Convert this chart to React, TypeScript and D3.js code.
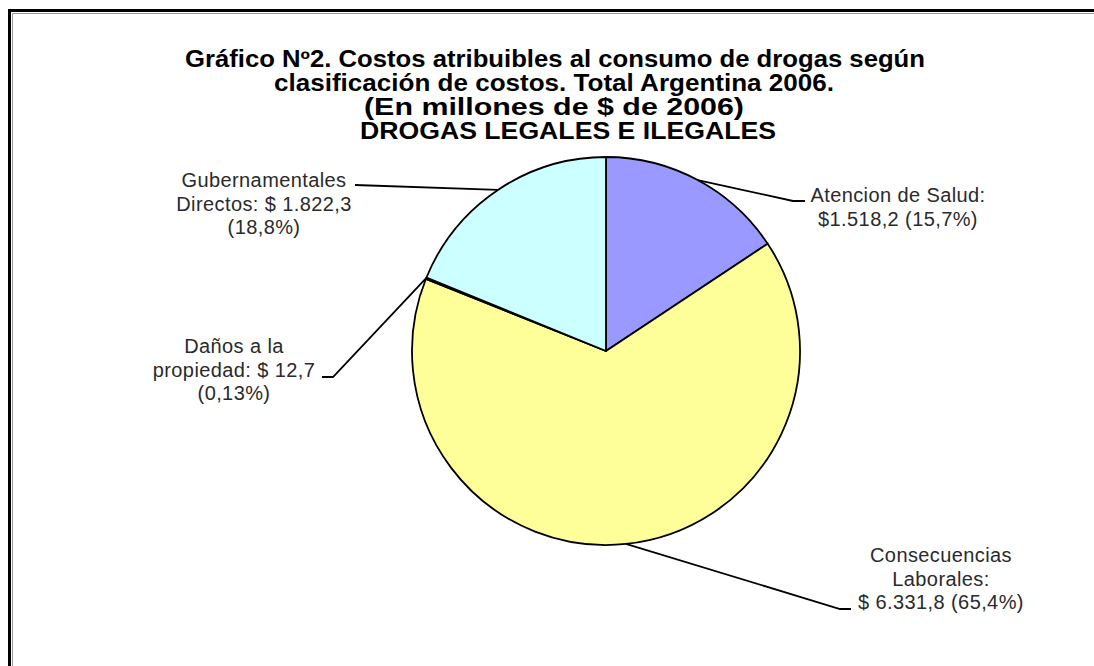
import React from "react";
import * as d3 from "d3";

const categories = [
  "Atencion de Salud",
  "Consecuencias Laborales",
  "Daños a la propiedad",
  "Gubernamentales Directos",
];
const values = [1518.2, 6331.8, 12.7, 1822.3];
const labelLines = [
  ["Atencion de Salud:", "$1.518,2 (15,7%)"],
  ["Consecuencias", "Laborales:", "$ 6.331,8 (65,4%)"],
  ["Daños a la", "propiedad: $ 12,7", "(0,13%)"],
  ["Gubernamentales", "Directos: $ 1.822,3", "(18,8%)"],
];
const titleLines = [
  "Gráfico Nº2. Costos atribuibles al consumo de drogas según",
  "clasificación de costos. Total Argentina 2006.",
  "(En millones de $ de 2006)",
  "DROGAS LEGALES E ILEGALES",
];

const W = 1094;
const H = 666;
const cx = 606;
const cy = 351;
const r = 194;
const colors = ["#9999FF", "#FFFF99", "#993366", "#CCFFFF"];

// label layout: text center x, first baseline y, leader elbow and end
const labelLayout = [
  { x: 898, y: 202, end: [805, 201], elbow: [793, 201] },
  { x: 941, y: 562, end: [851, 609], elbow: [840, 609] },
  { x: 234, y: 353, end: [322, 377], elbow: [333, 377] },
  { x: 264, y: 187, end: [355, 185], elbow: [355, 185] },
];
const titleWidths = [740, 560, 380, 416];
const titleCenters = [555, 554, 554, 568];

export default function App() {
  const pie = d3
    .pie<number>()
    .sort(null)
    .value((d) => d)
    .startAngle(0)
    .endAngle(2 * Math.PI);
  const arcs = pie(values);
  const arc = d3.arc<d3.PieArcDatum<number>>().innerRadius(0).outerRadius(r);

  return (
    <div style={{ position: "absolute", left: 0, top: 0 }}>
      <svg width={W} height={H} style={{ display: "block", background: "#fff" }}>
        {/* frame */}
        <path d={`M9.5,${H + 2} V10.5 H${W + 2}`} fill="none" stroke="#000" strokeWidth={3} />
        <path d={`M12.5,${H + 2} V13.5 H${W + 2}`} fill="none" stroke="#999" strokeWidth={1} />

        <g fontFamily="Liberation Sans, Arial, sans-serif" fontWeight="bold" fontSize={23} textAnchor="middle" fill="#000">
          {titleLines.map((t, i) => (
            <text
              key={i}
              x={titleCenters[i]}
              y={67 + i * 24}
              textLength={titleWidths[i]}
              lengthAdjust="spacingAndGlyphs"
            >
              {t}
            </text>
          ))}
        </g>

        <g transform={`translate(${cx},${cy})`}>
          {arcs.map((a, i) => (
            <path
              key={categories[i]}
              d={arc(a) || ""}
              fill={colors[i]}
              stroke="#000"
              strokeWidth={1.8}
              strokeLinejoin="round"
            />
          ))}
        </g>

        {arcs.map((a, i) => {
          const mid = (a.startAngle + a.endAngle) / 2;
          const px = cx + r * Math.sin(mid);
          const py = cy - r * Math.cos(mid);
          const L = labelLayout[i];
          return (
            <polyline
              key={"l" + i}
              points={`${px},${py} ${L.elbow[0]},${L.elbow[1]} ${L.end[0]},${L.end[1]}`}
              fill="none"
              stroke="#000"
              strokeWidth={1.8}
            />
          );
        })}

        <g
          fontFamily="Liberation Sans, Arial, sans-serif"
          fontSize={20}
          textAnchor="middle"
          fill="#2a2a2a"
          letterSpacing={0.4}
        >
          {labelLines.map((lines, i) =>
            lines.map((t, j) => (
              <text key={i + "-" + j} x={labelLayout[i].x} y={labelLayout[i].y + j * 23.5}>
                {t}
              </text>
            ))
          )}
        </g>
      </svg>
    </div>
  );
}
